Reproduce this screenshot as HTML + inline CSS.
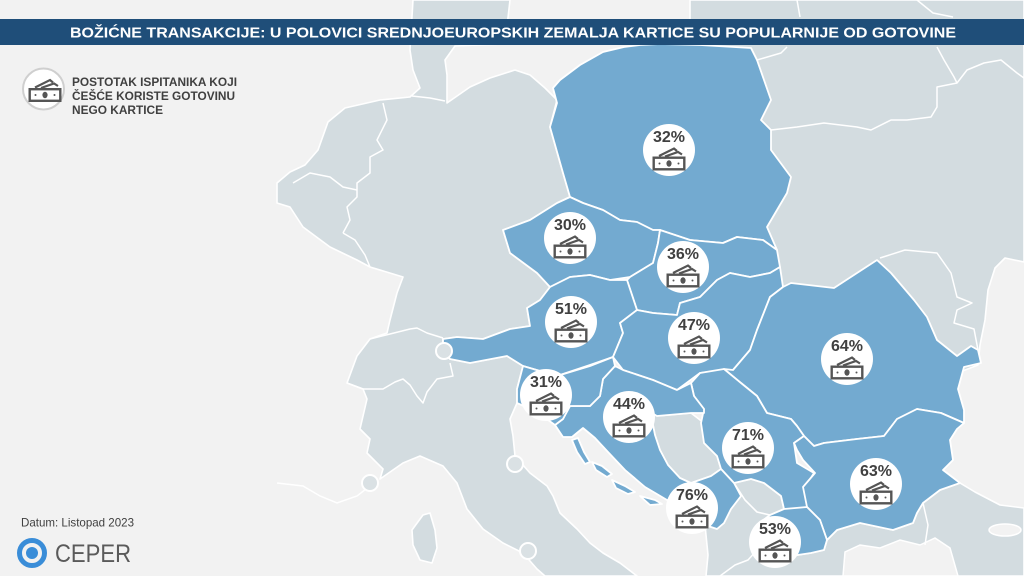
<!DOCTYPE html>
<html>
<head>
<meta charset="utf-8">
<style>
html,body{margin:0;padding:0;background:#f2f2f2;}
svg{display:block;}
text{font-family:"Liberation Sans",Arial,sans-serif;}
</style>
</head>
<body>
<svg width="1024" height="576" viewBox="0 0 1024 576" xmlns="http://www.w3.org/2000/svg">
<defs>
  <g id="money">
    <polyline points="-10,6 5,-1.5 8,1" fill="none" stroke="#555" stroke-width="2.2"/>
    <polyline points="-4,6.5 9,2 13,4.5" fill="none" stroke="#555" stroke-width="2.2"/>
    <rect x="-15.3" y="7.7" width="30.6" height="11.6" fill="#fff" stroke="#555" stroke-width="2.4"/>
    <ellipse cx="0" cy="13.5" rx="2.6" ry="3.2" fill="#555"/>
    <circle cx="-9.5" cy="13.5" r="1" fill="#555"/>
    <circle cx="9.5" cy="13.5" r="1" fill="#555"/>
  </g>
</defs>

<rect x="0" y="0" width="1024" height="576" fill="#f2f2f2"/>

<!-- France coastline hint -->
<polyline points="277,483 303,486 320,496 337,503 357,496 370,486" fill="none" stroke="#fff" stroke-width="1.5"/>

<!-- Gray land -->
<g fill="#d3dce0" stroke="#fff" stroke-width="1.6" stroke-linejoin="round">
  <polygon points="277,183 290,172 305,165 318,150 328,122 345,108 380,100 410,97 420,88 413,70 410,50 413,0 510,0 505,44 455,46 445,60 447,75 447,103 470,87 490,78 515,70 530,75 545,88 557,100 550,127 563,173 570,197 557,203 530,220 503,230 510,253 537,273 550,287 540,300 527,308 530,326 510,329 483,339 457,337 443,339 443,351 450,359 470,363 507,356 523,366 517,389 517,403 510,419 513,436 515,456 530,473 547,486 553,496 560,513 577,529 590,543 603,553 620,563 637,576 545,576 537,569 523,553 503,543 483,529 467,509 457,483 443,466 420,456 403,463 380,479 383,469 367,453 370,439 360,429 367,399 363,389 347,383 357,356 370,339 387,333 390,320 397,293 403,277 370,267 357,260 330,247 303,227 290,207 277,203"/>
  <polygon points="690,0 1024,0 1024,262 1005,258 995,268 988,290 985,320 980,345 978,365 960,372 940,380 780,380 760,260 700,60 690,45"/>
  <polygon points="705,525 717,529 724,523 731,509 741,496 734,483 751,479 764,483 781,496 784,509 770,515 757,525 757,540 767,553 791,556 811,553 824,550 827,540 837,530 860,523 893,530 913,523 917,513 923,503 940,490 960,483 975,492 1000,505 1024,508 1024,576 706,576 708,555"/>
  <polygon points="650,412 657,416 691,413 704,423 704,443 717,456 721,469 711,476 691,483 680,478 668,465 660,450 655,435 652,420"/>
  <polygon points="734,483 751,479 764,483 781,496 784,509 770,515 757,512 745,500"/>
  <polygon points="423,515 430,513 435,530 437,548 432,563 420,560 413,545 412,530"/>
</g>
<!-- seas overlaid -->
<g fill="#f2f2f2" stroke="#fff" stroke-width="1.5">
  <polygon points="843,576 845,552 860,545 880,548 900,540 920,545 935,538 950,548 958,576"/>
  <ellipse cx="1005" cy="530" rx="16" ry="6"/>
</g>

<!-- Blue countries -->
<g fill="#73aad0" stroke="#fff" stroke-width="1.8" stroke-linejoin="round">
  <!-- Poland -->
  <polygon points="553,88 560,80 580,65 603,52 624,47 640,45 660,44 700,45 751,48 757,60 771,100 761,120 771,130 771,150 791,177 787,193 767,227 777,250 763,240 737,237 723,243 690,240 660,230 653,230 637,222 620,220 603,210 583,203 570,197 563,173 550,127 557,103"/>
  <!-- Czech -->
  <polygon points="557,203 570,197 583,203 603,210 620,220 637,222 653,230 660,230 658,243 653,263 630,277 610,280 590,275 570,277 550,287 537,273 510,253 503,230 530,220"/>
  <!-- Slovakia -->
  <polygon points="660,230 690,240 723,243 737,237 763,240 777,250 780,267 770,273 750,277 730,273 717,280 700,297 680,303 677,315 653,313 637,310 627,280 630,277 653,263 658,243"/>
  <!-- Austria -->
  <polygon points="443,339 457,337 483,339 510,329 530,326 527,308 540,300 550,287 570,277 590,275 610,280 627,280 637,310 620,323 623,333 613,357 590,365 557,376 523,366 507,356 470,363 450,359 443,351"/>
  <!-- Hungary -->
  <polygon points="637,310 653,313 677,315 680,303 700,297 717,280 730,273 750,277 770,273 780,267 783,287 770,297 757,330 750,350 733,370 723,370 700,373 677,390 653,380 623,370 613,357 623,333 620,323"/>
  <!-- Romania -->
  <polygon points="783,287 791,283 834,288 857,273 877,260 891,273 914,300 927,317 937,340 957,356 971,346 978,350 981,363 964,367 958,389 964,410 964,423 941,413 917,409 897,419 884,436 857,439 824,443 814,446 804,436 797,426 791,419 767,413 757,396 741,383 724,369 733,370 750,350 757,330 770,297"/>
  <!-- Serbia -->
  <polygon points="724,369 741,383 757,396 767,413 791,419 797,426 804,436 794,443 797,463 814,473 804,489 811,509 784,509 781,496 764,483 751,479 734,483 721,469 717,456 704,443 701,423 704,409 694,396 691,383 700,373"/>
  <!-- Bulgaria -->
  <polygon points="804,436 814,446 824,443 857,439 884,436 897,419 917,409 941,413 964,423 957,429 950,440 953,460 943,470 960,483 940,490 923,503 917,513 913,523 893,530 860,523 837,530 827,540 820,520 807,507 803,487 815,473 803,460 797,450 794,443"/>
  <!-- North Macedonia -->
  <polygon points="784,509 807,507 820,520 827,540 824,550 811,553 791,556 767,553 757,540 757,525 770,515"/>
  <!-- Montenegro -->
  <polygon points="671,483 691,483 711,476 721,469 734,483 741,496 731,509 724,523 717,529 705,525 691,513 677,503 667,496"/>
  <!-- Croatia -->
  <polygon points="555,425 563,419 570,406 590,406 600,396 603,379 615,366 623,370 653,380 677,390 691,383 694,396 704,409 704,413 691,413 657,416 650,412 652,420 655,435 660,450 668,465 680,478 691,483 677,500 667,500 645,487 625,470 608,452 595,438 583,428 572,437 563,437"/>
  <!-- Slovenia -->
  <polygon points="523,366 557,376 590,366 613,357 615,366 603,379 600,396 590,406 570,406 563,419 555,425 548,420 530,409 517,403 517,389"/>
  <!-- islands -->
  <polygon points="572,440 578,438 584,452 590,462 585,464 577,452"/>
  <polygon points="592,462 602,466 612,474 607,477 596,470"/>
  <polygon points="612,480 625,486 635,492 628,494 616,488"/>
  <polygon points="640,496 655,500 662,504 650,505"/>
</g>

<!-- Internal white borders in gray areas -->
<g fill="none" stroke="#fff" stroke-width="1.5" stroke-linejoin="round">
  <polyline points="383,103 387,120 377,140 383,150 370,157 370,173 357,183 357,197 347,207 350,220 343,233"/>
  <polyline points="293,183 310,173 330,177 343,187 357,190"/>
  <polyline points="343,233 355,240 365,255 370,267"/>
  <polyline points="412,96 430,98 445,101"/>
  <polyline points="370,339 390,334 410,329 417,328 427,333 443,338"/>
  <polyline points="347,383 363,389 383,389 395,382 403,379 410,385 417,396 423,403 427,392 437,379 453,376 450,363"/>
  <polyline points="751,48 757,60 781,53 787,47"/>
  <polyline points="771,130 797,127 824,123 857,127 871,130 891,120 907,120 931,117 937,107 937,87 957,83 967,70 984,63 1001,60 1017,73 1024,78"/>
  <polyline points="937,47 944,60 954,77 957,83"/>
  <polyline points="797,0 800,17"/>
  <polyline points="917,0 933,13 953,17"/>
  <polyline points="880,258 905,250 937,253 951,273 957,297 972,303 957,310 954,323 974,329 978,350"/>
  <polyline points="720,576 735,565 748,560 757,550"/>
  <polyline points="923,503 928,525 925,545"/>
</g>

<!-- city markers -->
<g fill="#dae1e4" stroke="#fff" stroke-width="2">
  <circle cx="444" cy="351" r="8"/>
  <circle cx="370" cy="483" r="8"/>
  <circle cx="515" cy="464" r="8"/>
  <circle cx="528" cy="551" r="8"/>
</g>

<!-- Title bar -->
<rect x="0" y="19" width="1024" height="26" fill="#1f4e79"/>
<text x="70" y="37.5" font-size="15" font-weight="bold" fill="#ffffff" textLength="886" lengthAdjust="spacingAndGlyphs">BOŽIĆNE  TRANSAKCIJE:  U POLOVICI SREDNJOEUROPSKIH  ZEMALJA  KARTICE SU POPULARNIJE  OD GOTOVINE</text>

<!-- Legend -->
<circle cx="43.5" cy="89" r="20.5" fill="#fff" stroke="#cfcfcf" stroke-width="2"/>
<use href="#money" x="45" y="81.5"/>
<g font-size="12" font-weight="bold" fill="#404040">
  <text x="72" y="86" textLength="165" lengthAdjust="spacingAndGlyphs">POSTOTAK ISPITANIKA KOJI</text>
  <text x="72" y="100" textLength="163" lengthAdjust="spacingAndGlyphs">ČEŠĆE KORISTE GOTOVINU</text>
  <text x="72" y="114" textLength="91" lengthAdjust="spacingAndGlyphs">NEGO KARTICE</text>
</g>

<!-- Value markers -->
<g fill="#fff">
  <circle cx="669" cy="150" r="26"/>
  <circle cx="570" cy="238" r="26"/>
  <circle cx="683" cy="267" r="26"/>
  <circle cx="571" cy="322" r="26"/>
  <circle cx="694" cy="338" r="26"/>
  <circle cx="847" cy="359" r="26"/>
  <circle cx="546" cy="395" r="26"/>
  <circle cx="629" cy="417" r="26"/>
  <circle cx="748" cy="448" r="26"/>
  <circle cx="876" cy="484" r="26"/>
  <circle cx="692" cy="508" r="26"/>
  <circle cx="775" cy="542" r="26"/>
</g>
<use href="#money" x="669" y="150"/>
<use href="#money" x="570" y="238"/>
<use href="#money" x="683" y="267"/>
<use href="#money" x="571" y="322"/>
<use href="#money" x="694" y="338"/>
<use href="#money" x="847" y="359"/>
<use href="#money" x="546" y="395"/>
<use href="#money" x="629" y="417"/>
<use href="#money" x="748" y="448"/>
<use href="#money" x="876" y="484"/>
<use href="#money" x="692" y="508"/>
<use href="#money" x="775" y="542"/>
<g font-size="16" font-weight="bold" fill="#404040" text-anchor="middle">
  <text x="669" y="142">32%</text>
  <text x="570" y="230">30%</text>
  <text x="683" y="259">36%</text>
  <text x="571" y="314">51%</text>
  <text x="694" y="330">47%</text>
  <text x="847" y="351">64%</text>
  <text x="546" y="387">31%</text>
  <text x="629" y="409">44%</text>
  <text x="748" y="440">71%</text>
  <text x="876" y="476">63%</text>
  <text x="692" y="500">76%</text>
  <text x="775" y="534">53%</text>
</g>

<!-- Footer -->
<text x="21" y="526.5" font-size="12" fill="#404040" textLength="113" lengthAdjust="spacingAndGlyphs">Datum: Listopad 2023</text>
<circle cx="32" cy="553" r="12.5" fill="none" stroke="#3a8dd8" stroke-width="5"/>
<circle cx="32" cy="553" r="6" fill="#3a8dd8"/>
<text x="55" y="562" font-size="25" fill="#5a5a5a" textLength="76" lengthAdjust="spacingAndGlyphs">CEPER</text>
</svg>
</body>
</html>
